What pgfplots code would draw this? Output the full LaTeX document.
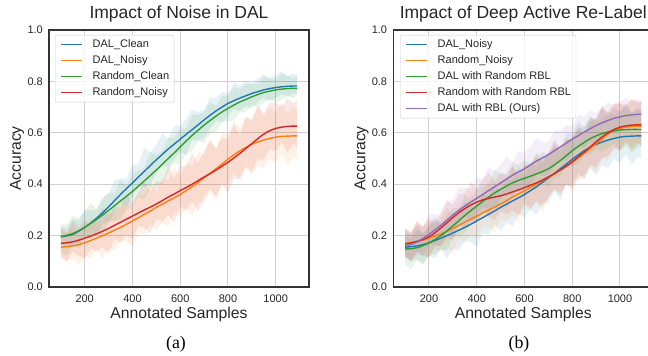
\documentclass[border=0pt]{standalone}
\usepackage{fontspec}
\setmainfont{Liberation Sans}
\newfontfamily\capfont{Liberation Serif}
\usepackage{pgfplots}
\usepackage{pgfplotstable}
\usepgfplotslibrary{fillbetween}
\pgfplotsset{compat=1.18}
\definecolor{tblue}{HTML}{1F77B4}
\definecolor{torange}{HTML}{FF7F0E}
\definecolor{tgreen}{HTML}{2CA02C}
\definecolor{tred}{HTML}{D62728}
\definecolor{tpurple}{HTML}{9467BD}
\definecolor{gridc}{HTML}{D0D0D0}
\definecolor{spinec}{HTML}{333333}
\definecolor{labc}{HTML}{262626}

% x  m(mean)  a(lower half-width)  b(upper half-width)
\pgfplotstableread{
x m a b
100 .195 .03 .04
125 .199 .05 .03
150 .205 .04 .06
175 .217 .06 .04
200 .232 .03 .07
225 .249 .05 .05
250 .268 .07 .03
275 .289 .04 .06
300 .312 .06 .05
325 .336 .05 .08
350 .360 .03 .06
375 .383 .07 .04
400 .405 .05 .07
425 .428 .04 .05
450 .450 .06 .09
475 .473 .08 .05
500 .495 .05 .06
525 .516 .04 .08
550 .537 .07 .04
575 .556 .06 .07
600 .575 .05 .05
625 .594 .08 .06
650 .612 .04 .08
675 .631 .06 .05
700 .650 .07 .04
725 .668 .05 .07
750 .685 .04 .05
775 .700 .06 .06
800 .714 .05 .04
825 .725 .03 .07
850 .735 .05 .05
875 .744 .04 .06
900 .753 .06 .04
925 .760 .04 .05
950 .767 .03 .06
975 .772 .05 .04
1000 .776 .04 .05
1025 .779 .03 .06
1050 .781 .04 .04
1075 .782 .03 .05
1090 .782 .03 .04
}\tBlueL

\pgfplotstableread{
x m a b
100 .197 .06 .05
125 .201 .08 .04
150 .208 .05 .07
175 .219 .07 .05
200 .232 .04 .06
225 .247 .06 .08
250 .263 .05 .04
275 .280 .08 .06
300 .298 .04 .07
325 .316 .06 .05
350 .335 .07 .08
375 .353 .05 .04
400 .372 .06 .07
425 .392 .04 .06
450 .413 .07 .05
475 .434 .05 .09
500 .455 .06 .06
525 .477 .08 .05
550 .500 .05 .08
575 .522 .04 .06
600 .545 .07 .07
625 .568 .05 .05
650 .590 .06 .08
675 .610 .04 .06
700 .630 .07 .05
725 .648 .05 .07
750 .665 .06 .04
775 .681 .04 .06
800 .695 .05 .05
825 .708 .06 .07
850 .720 .04 .05
875 .730 .05 .06
900 .740 .03 .05
925 .749 .05 .04
950 .757 .04 .06
975 .762 .03 .05
1000 .767 .05 .04
1025 .770 .04 .06
1050 .772 .03 .05
1075 .773 .04 .04
1090 .773 .03 .05
}\tGreenL

\pgfplotstableread{
x m a b
100 .170 .05 .06
125 .172 .07 .04
150 .176 .04 .08
175 .182 .06 .05
200 .190 .08 .07
225 .198 .05 .04
250 .207 .07 .06
275 .217 .06 .09
300 .228 .10 .05
325 .240 .05 .07
350 .252 .08 .06
375 .264 .06 .10
400 .276 .09 .05
425 .288 .05 .08
450 .300 .07 .11
475 .311 .10 .06
500 .323 .06 .09
525 .336 .08 .07
550 .350 .07 .12
575 .362 .11 .06
600 .375 .06 .10
625 .387 .09 .08
650 .400 .07 .12
675 .414 .12 .07
700 .428 .08 .10
725 .441 .06 .13
750 .455 .10 .08
775 .470 .07 .11
800 .485 .12 .09
825 .502 .08 .13
850 .520 .10 .07
875 .539 .07 .12
900 .558 .11 .09
925 .577 .08 .13
950 .595 .10 .08
975 .608 .07 .11
1000 .617 .09 .10
1025 .622 .06 .08
1050 .625 .10 .11
1075 .626 .07 .09
1090 .626 .08 .10
}\tRedL

\pgfplotstableread{
x m a b
100 .155 .04 .07
125 .157 .06 .05
150 .160 .05 .08
175 .165 .08 .04
200 .172 .05 .07
225 .181 .07 .09
250 .190 .04 .06
275 .200 .09 .05
300 .210 .06 .08
325 .221 .08 .06
350 .232 .05 .10
375 .244 .07 .07
400 .257 .10 .05
425 .270 .06 .09
450 .283 .08 .07
475 .296 .05 .11
500 .310 .09 .06
525 .322 .07 .10
550 .335 .10 .08
575 .347 .06 .12
600 .360 .09 .07
625 .375 .07 .11
650 .390 .11 .08
675 .407 .08 .12
700 .425 .10 .09
725 .442 .07 .13
750 .460 .12 .08
775 .478 .08 .12
800 .497 .10 .10
825 .514 .07 .13
850 .530 .11 .09
875 .543 .08 .12
900 .555 .12 .10
925 .564 .09 .14
950 .572 .11 .09
975 .578 .08 .12
1000 .583 .10 .10
1025 .586 .07 .13
1050 .587 .11 .09
1075 .588 .08 .11
1090 .588 .09 .10
}\tOrangeL

\pgfplotstableread{
x m a b
100 .148 .06 .05
125 .149 .08 .04
150 .153 .05 .07
175 .161 .07 .05
200 .172 .04 .06
225 .185 .06 .08
250 .200 .05 .04
275 .218 .08 .06
300 .238 .04 .07
325 .258 .06 .05
350 .278 .07 .08
375 .297 .05 .04
400 .315 .06 .07
425 .333 .04 .06
450 .350 .07 .05
475 .366 .05 .09
500 .380 .06 .06
525 .393 .08 .05
550 .405 .05 .08
575 .415 .04 .06
600 .423 .07 .07
625 .431 .05 .05
650 .440 .06 .08
675 .449 .04 .06
700 .460 .07 .05
725 .475 .05 .07
750 .492 .06 .04
775 .511 .04 .06
800 .530 .06 .05
825 .547 .07 .07
850 .563 .05 .06
875 .577 .06 .08
900 .588 .05 .06
925 .597 .07 .05
950 .603 .06 .08
975 .608 .05 .06
1000 .611 .08 .07
1025 .612 .06 .09
1050 .613 .09 .06
1075 .613 .07 .08
1090 .613 .06 .07
}\tGreenR

\pgfplotstableread{
x m a b
100 .160 .04 .05
125 .166 .06 .04
150 .175 .05 .07
175 .189 .07 .05
200 .205 .04 .08
225 .222 .06 .06
250 .240 .08 .04
275 .260 .05 .07
300 .280 .07 .06
325 .298 .06 .09
350 .315 .04 .07
375 .330 .08 .05
400 .345 .06 .08
425 .360 .05 .06
450 .375 .07 .09
475 .390 .09 .06
500 .405 .06 .07
525 .420 .05 .09
550 .435 .08 .05
575 .448 .07 .08
600 .460 .06 .06
625 .475 .09 .07
650 .490 .05 .09
675 .502 .07 .06
700 .515 .08 .05
725 .530 .06 .08
750 .545 .05 .06
775 .560 .07 .07
800 .575 .06 .05
825 .589 .04 .08
850 .603 .06 .06
875 .616 .05 .07
900 .628 .07 .05
925 .639 .05 .06
950 .648 .04 .07
975 .656 .06 .05
1000 .662 .05 .06
1025 .667 .04 .07
1050 .670 .05 .05
1075 .672 .04 .06
1090 .672 .04 .05
}\tPurpleR

\pgfplotstableread{
x m a b
100 .168 .05 .06
125 .172 .07 .04
150 .178 .04 .08
175 .185 .06 .05
200 .195 .08 .07
225 .211 .05 .04
250 .230 .07 .06
275 .250 .06 .09
300 .270 .09 .05
325 .289 .05 .07
350 .305 .08 .06
375 .319 .06 .09
400 .330 .08 .05
425 .339 .05 .08
450 .345 .07 .10
475 .350 .09 .06
500 .355 .06 .09
525 .362 .08 .07
550 .370 .07 .10
575 .378 .10 .06
600 .387 .06 .09
625 .396 .09 .08
650 .405 .07 .10
675 .416 .10 .07
700 .428 .08 .09
725 .441 .06 .11
750 .455 .09 .08
775 .470 .07 .10
800 .487 .10 .09
825 .506 .08 .11
850 .525 .09 .07
875 .545 .07 .10
900 .565 .10 .09
925 .584 .08 .11
950 .600 .09 .08
975 .613 .07 .10
1000 .622 .09 .09
1025 .627 .06 .08
1050 .630 .09 .10
1075 .631 .07 .09
1090 .631 .08 .09
}\tRedR

\newcommand{\band}[3]{%
  \addplot[draw=none, forget plot, name path=#3u] table[x=x, y expr=\thisrow{m}+\thisrow{b}] {#1};
  \addplot[draw=none, forget plot, name path=#3l] table[x=x, y expr=\thisrow{m}-\thisrow{a}] {#1};
  \addplot[fill=#2, fill opacity=0.11, draw=none, forget plot] fill between[of=#3u and #3l];
}

\pgfplotsset{
  panel/.style={
    scale only axis, width=260pt, height=257pt,
    xmin=50.5, xmax=1139.5, ymin=0, ymax=1,
    xtick={200,400,600,800,1000}, ytick={0,0.2,0.4,0.6,0.8,1.0},
    /pgf/number format/assume math mode=true,
    xticklabel style={/pgf/number format/1000 sep={}, anchor=north, yshift=-7.5pt},
    yticklabel style={/pgf/number format/.cd, fixed, fixed zerofill, precision=1, /tikz/.cd, anchor=east, xshift=-6pt},
    tick label style={font=\fontsize{11}{13}\selectfont, text=labc, inner sep=0pt},
    grid=major, grid style={color=gridc, line width=1pt},
    major tick length=0pt,
    axis line style={color=spinec, line width=1.25pt},
    title style={at={(0.5,1)}, anchor=base, yshift=5.5pt, font=\fontsize{17.5}{20}\selectfont, text=labc, inner sep=0pt},
    xlabel style={at={(0.5,0)}, anchor=base, yshift=-32pt, font=\fontsize{15.7}{18}\selectfont, text=labc, inner sep=0pt},
    ylabel style={at={(-0.1077,0.5)}, anchor=base, font=\fontsize{15.7}{18}\selectfont, text=labc, inner sep=0pt},
    xlabel={Annotated Samples}, ylabel={Accuracy},
    legend cell align=left,
    legend image code/.code={\draw[#1, line width=1.5pt] (0pt,0pt) -- (21pt,0pt);},
    legend style={at={(0,1)}, anchor=north west, yshift=-5pt,
      draw=black!20, rounded corners=2pt, fill=white, fill opacity=0.8, text opacity=1,
      font=\fontsize{11}{13}\selectfont, text=labc,
      inner xsep=5pt, inner ysep=4pt, column sep=10pt, row sep=5pt,
      nodes={inner sep=0pt, text height=8pt, text depth=3pt, anchor=west}},
  },
  mline/.style={line width=1.4pt, smooth, tension=0.5},
}

\begin{document}
\begin{tikzpicture}
\begin{axis}[panel, at={(49pt,69pt)}, anchor=south west,
  title={Impact of Noise in DAL}, legend style={xshift=6pt}]
  \band{\tBlueL}{tblue}{a1}
  \band{\tOrangeL}{torange}{a2}
  \band{\tGreenL}{tgreen}{a3}
  \band{\tRedL}{tred}{a4}
  \addplot[mline, tblue] table[x=x, y=m] {\tBlueL};
  \addlegendentry{DAL\_Clean}
  \addplot[mline, torange] table[x=x, y=m] {\tOrangeL};
  \addlegendentry{DAL\_Noisy}
  \addplot[mline, tgreen] table[x=x, y=m] {\tGreenL};
  \addlegendentry{Random\_Clean}
  \addplot[mline, tred] table[x=x, y=m] {\tRedL};
  \addlegendentry{Random\_Noisy}
\end{axis}

\begin{axis}[panel, at={(393.3pt,69pt)}, anchor=south west,
  title={Impact of Deep Active Re-Label}, legend style={xshift=6.7pt}]
  \band{\tOrangeL}{tblue}{b1}
  \band{\tRedL}{torange}{b2}
  \band{\tGreenR}{tgreen}{b3}
  \band{\tRedR}{tred}{b4}
  \band{\tPurpleR}{tpurple}{b5}
  \addplot[mline, tblue] table[x=x, y=m] {\tOrangeL};
  \addlegendentry{DAL\_Noisy}
  \addplot[mline, torange] table[x=x, y=m] {\tRedL};
  \addlegendentry{Random\_Noisy}
  \addplot[mline, tgreen] table[x=x, y=m] {\tGreenR};
  \addlegendentry{DAL with Random RBL}
  \addplot[mline, tred] table[x=x, y=m] {\tRedR};
  \addlegendentry{Random with Random RBL}
  \addplot[mline, tpurple] table[x=x, y=m] {\tPurpleR};
  \addlegendentry{DAL with RBL (Ours)}
\end{axis}

\node[font=\capfont\fontsize{17.8}{20}\selectfont, anchor=base, inner sep=0pt] at (176pt,7pt) {(a)};
\node[font=\capfont\fontsize{17.8}{20}\selectfont, anchor=base, inner sep=0pt] at (519pt,7pt) {(b)};
\pgfresetboundingbox
\path[use as bounding box] (0,0) rectangle (648pt,356pt);
\end{tikzpicture}
\end{document}
